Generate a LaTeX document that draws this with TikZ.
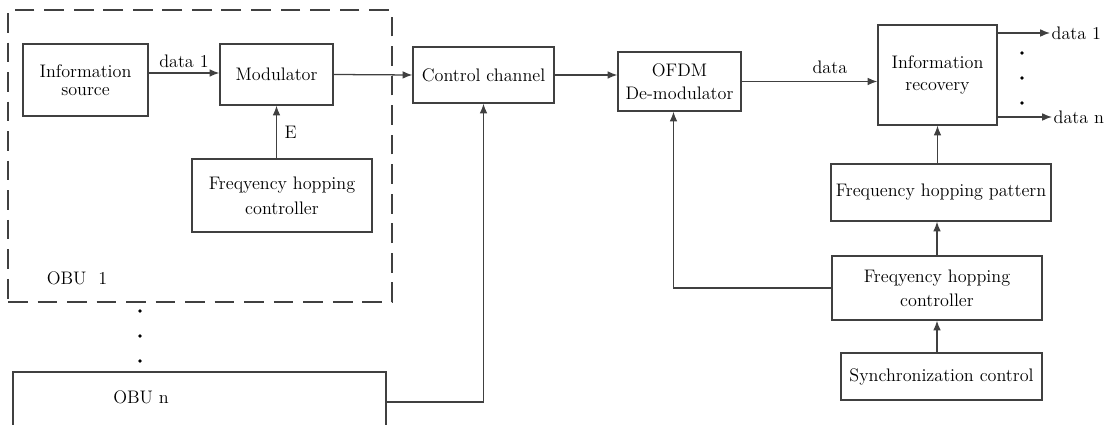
\documentclass[tikz,border=0pt]{standalone}
\usepackage{tikz}
\usetikzlibrary{positioning,arrows.meta}
\tikzset{sz/.style n args={2}{minimum width=#1*0.025cm,minimum height=#2*0.025cm}}

\begin{document}
\begin{tikzpicture}[x=0.025cm,y=-0.025cm,
  font=\fontsize{12.9}{16}\selectfont,
  blk/.style={rectangle,draw=black!75,line width=0.9pt,align=center,inner sep=1pt},
  lbl/.style={inner sep=1pt},
  arr/.style={-{Latex[length=7pt,width=5.5pt]},line width=0.9pt,draw=black!75}
]
\useasboundingbox (0,0) rectangle (1104,425);
% OBU 1
\node[blk,sz={384}{292},dash pattern=on 14pt off 7pt] (obu1) at (200,156) {};
\node[lbl] (obu1lbl) at (77,278) {OBU\ \ 1};
\node[blk,sz={125}{72}] (src) at (85.5,80) {Information\\[-3pt]source};
\node[blk,sz={113}{61}] (mod) at (276.5,74.5) {Modulator};
\node[blk,sz={180}{73}] (fhc1) at (282,195.5) {Freqyency hopping\\[2pt]controller};
% OBU n
\node[blk,sz={373}{60}] (obun) at (199.5,402) {};
\node[lbl] (obunlbl) at (141,397) {OBU n};
% receiver side
\node[blk,sz={141}{56}] (cc) at (483.5,75) {Control channel};
\node[blk,sz={123}{59}] (ofdm) at (679.5,81.5) {OFDM\\De-modulator};
\node[blk,sz={119}{100}] (ir) at (937.5,75) {Information\\recovery};
\node[blk,sz={220}{57}] (pat) at (941,192.5) {Frequency hopping pattern};
\node[blk,sz={210}{64}] (fhc2) at (937,288) {Freqyency hopping\\[1pt]controller};
\node[blk,sz={201}{47}] (sync) at (941.5,376.5) {Synchronization control};
\node[lbl,anchor=west] (d1) at (1050,33) {data 1};
\node[lbl,anchor=west] (dn) at (1052,117) {data n};
% dots
\foreach \yy in {311,336,361} \fill (140,\yy) circle[radius=1.3pt];
\foreach \yy in {53,78,103} \fill (1022,\yy) circle[radius=1.3pt];
% connectors
\draw[arr] (src.east |- 0,73) -- node[above] {data 1} (mod.west |- 0,73);
\draw[arr] (fhc1.north -| mod.south) -- node[right=2pt] {E} (mod.south);
\draw[arr] (mod.east) -- (cc.west);
\draw[arr] (cc.east) -- (cc.east -| ofdm.west);
\draw[arr] (ofdm.east) -- node[above=2pt,pos=0.65] {data} (ofdm.east -| ir.west);
\draw[arr] (ir.east |- d1) -- (d1.west);
\draw[arr] (ir.east |- dn) -- (dn.west);
\draw[arr] (pat.north -| ir.south) -- (ir.south);
\draw[arr] (fhc2.north) -- (fhc2.north |- pat.south);
\draw[arr] (sync.north -| fhc2.south) -- (fhc2.south);
\draw[arr] (fhc2.west) -| ([xshift=-6*0.025cm]ofdm.south);
\draw[arr] (obun.east) -| (cc.south);
\end{tikzpicture}
\end{document}
